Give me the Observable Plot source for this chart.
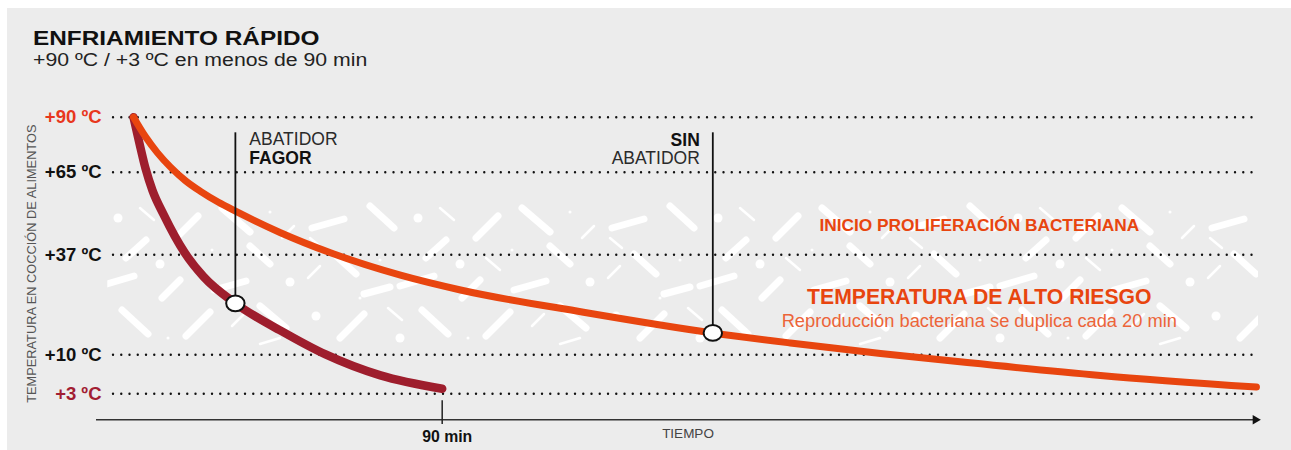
<!DOCTYPE html>
<html>
<head>
<meta charset="utf-8">
<script src="https://cdn.jsdelivr.net/npm/d3@7"></script>
<script src="https://cdn.jsdelivr.net/npm/@observablehq/plot@0.6"></script>
<style>
  html, body { margin: 0; padding: 0; background: #ffffff; }
  #wrap { position: relative; width: 1291px; height: 450px; overflow: hidden; font-family: "Liberation Sans", Arial, sans-serif; }
  #panel { position: absolute; left: 7px; top: 8px; right: 0; bottom: 0; background: #ececec; }
  #title { position: absolute; left: 33px; top: 27.2px; font-size: 21px; line-height: 1; font-weight: bold; color: #111; white-space: nowrap; transform: scaleX(1.16); transform-origin: 0 50%; }
  #subtitle { position: absolute; left: 33px; top: 51.3px; font-size: 18px; line-height: 1; color: #222; white-space: nowrap; transform: scaleX(1.18); transform-origin: 0 50%; }
  #chart { position: absolute; left: 0; top: 90px; }
</style>
</head>
<body>
<div id="wrap">
  <div id="panel"></div>
  <div id="title">ENFRIAMIENTO RÁPIDO</div>
  <div id="subtitle">+90 ºC / +3 ºC en menos de 90 min</div>
  <div id="chart"></div>
</div>
<script>
// ---------- data ----------
const gridTemps = [3, 10, 37, 65, 90];
const gridLabels = ["+3 ºC", "+10 ºC", "+37 ºC", "+65 ºC", "+90 ºC"];

// Abatidor Fagor curve (minutes, ºC)
const fagorTime = [0, 1.75, 3.5, 5.54, 8.75, 14.87, 20.41, 29.7, 43.15, 56.0, 72.0, 90];
const fagorTemp = [90, 78.0, 66.7, 58.8, 50.7, 37.8, 31.1, 23.9, 16.4, 10.1, 6.3, 3.9];

// Sin abatidor curve (minutes, ºC)
const sinTime = [0, 3.5, 7.0, 10.79, 15.16, 19.53, 24.78, 29.74, 42.86, 57.43, 77.84, 95.34, 131.2, 168.9, 191.5, 217.8, 243.1, 281.9, 327.4];
const sinTemp = [90, 81.1, 73.8, 67.3, 62.1, 58.5, 54.8, 51.8, 44.5, 37.7, 31.5, 27.5, 21.5, 15.9, 13.2, 10.35, 8.6, 6.3, 4.2];

// marked points
const markerTime = [29.7, 168.9];
const markerTemp = [23.9, 15.9];

const xTickValue = 90;
const xTickLabel = "90 min";
const xTitle = "TIEMPO";
const yTitle = "TEMPERATURA EN COCCIÓN DE ALIMENTOS";
const zoneLabel = "INICIO PROLIFERACIÓN BACTERIANA";
const riskLabel = "TEMPERATURA DE ALTO RIESGO";
const riskSub = "Reproducción bacteriana se duplica cada 20 min";

// ---------- build ----------
const fagor = fagorTime.map((t, i) => ({t, temp: fagorTemp[i]}));
const sin = sinTime.map((t, i) => ({t, temp: sinTemp[i]}));
const markers = markerTime.map((t, i) => ({t, temp: markerTemp[i]}));
const grid = gridTemps.map((v, i) => ({v, label: gridLabels[i]}));

// the reference uses an uneven (piecewise) temperature axis
const warp = d3.scaleLinear().domain([0, 3, 10, 37, 65, 90]).range([0, 26, 65, 165, 247.6, 302.6]);

const RED = "#9e1e2d";
const ORANGE = "#e8450f";
const LABEL_TOP = 82.9;
const BAND_X = 246.6;

const ellipse = {
  draw(ctx) {
    const rx = 9.2, ry = 7.9, k = 0.5523;
    ctx.moveTo(rx, 0);
    ctx.bezierCurveTo(rx, ry * k, rx * k, ry, 0, ry);
    ctx.bezierCurveTo(-rx * k, ry, -rx, ry * k, -rx, 0);
    ctx.bezierCurveTo(-rx, -ry * k, -rx * k, -ry, 0, -ry);
    ctx.bezierCurveTo(rx * k, -ry, rx, -ry * k, rx, 0);
    ctx.closePath();
  }
};

const font = "Liberation Sans, Arial, sans-serif";

const chart = Plot.plot({
  width: 1291,
  height: 360,
  marginLeft: 96,
  marginRight: 33,
  marginTop: 26.7,
  marginBottom: 30.7,
  x: {domain: [-10.79, 328], range: [96, 1258], axis: null},
  y: {transform: warp, domain: [0, 302.6], range: [329.3, 26.7], axis: null},
  color: {type: "identity"},
  style: {background: "transparent", fontFamily: font, overflow: "visible"},
  marks: [
    // bacteria texture band
    Plot.rect([0], {x1: -7.5, x2: 328, y1: 10.4, y2: 56.5, fill: "url(#bact)"}),
    // dotted gridlines
    Plot.ruleY(gridTemps, {x1: -5.83, x2: 328, stroke: "#111", strokeWidth: 2.4, strokeDasharray: "0 8.25", strokeLinecap: "round"}),
    // x axis line + arrow + tick
    Plot.ruleY([0], {stroke: "#333", strokeWidth: 1.5}),
    Plot.dot([0], {x: 327.1, y: 0, symbol: "triangle", rotate: 90, r: 3.5, fill: "#111", stroke: null}),
    Plot.ruleX([xTickValue], {y1: -0.55, y2: 2.2, stroke: "#222", strokeWidth: 1.5}),
    Plot.text([xTickLabel], {x: xTickValue, y: 0, dx: 5, dy: 22.4, lineAnchor: "bottom", fontWeight: "bold", fontSize: 15.8, fill: "#111"}),
    Plot.text([xTitle], {frameAnchor: "bottom", dx: 10.5, dy: 18.4, lineAnchor: "bottom", fontSize: 13.5, fill: "#444"}),
    // y labels
    Plot.text(grid, {y: "v", text: "label", frameAnchor: "left", dx: 5, textAnchor: "end", lineAnchor: "middle", fontWeight: "bold", fontSize: 18.5,
      fill: d => d.v === 90 ? "#e8371d" : d.v === 3 ? "#a21d33" : "#111"}),
    Plot.text([yTitle], {x: -10.79, y: 34.6, rotate: -90, dx: -61, lineAnchor: "bottom", fontSize: 12.8, fill: "#555"}),
    // curves
    Plot.line(fagor, {x: "t", y: "temp", stroke: RED, strokeWidth: 8.5, curve: "monotone-x", strokeLinecap: "round"}),
    Plot.line(sin, {x: "t", y: "temp", stroke: ORANGE, strokeWidth: 7, curve: "monotone-x", strokeLinecap: "round"}),
    // annotation lines and markers
    Plot.ruleX(markers, {x: "t", y1: "temp", y2: LABEL_TOP, stroke: "#111", strokeWidth: 1.8}),
    Plot.dot(markers, {x: "t", y: "temp", symbol: ellipse, fill: "white", stroke: "#111", strokeWidth: 2}),
    // annotation texts
    Plot.text(["ABATIDOR"], {x: markerTime[0], y: LABEL_TOP, dx: 14, dy: 12.2, textAnchor: "start", lineAnchor: "bottom", fontSize: 17.5, fill: "#2a2a2a"}),
    Plot.text(["FAGOR"], {x: markerTime[0], y: LABEL_TOP, dx: 14, dy: 31, textAnchor: "start", lineAnchor: "bottom", fontSize: 17.5, fontWeight: "bold", fill: "#111"}),
    Plot.text(["SIN"], {x: markerTime[1], y: LABEL_TOP, dx: -13, dy: 12.7, textAnchor: "end", lineAnchor: "bottom", fontSize: 17.5, fontWeight: "bold", fill: "#111"}),
    Plot.text(["ABATIDOR"], {x: markerTime[1], y: LABEL_TOP, dx: -13, dy: 31, textAnchor: "end", lineAnchor: "bottom", fontSize: 17.5, fill: "#2a2a2a"}),
    // zone texts
    Plot.text([zoneLabel], {x: BAND_X, y: 37, dy: -24.3, lineAnchor: "bottom", fontSize: 17.3, fontWeight: "bold", fill: ORANGE}),
    Plot.text([riskLabel], {x: BAND_X, y: 10, dy: -51, lineAnchor: "bottom", fontSize: 21.2, fontWeight: "bold", fill: ORANGE}),
    Plot.text([riskSub], {x: BAND_X, y: 10, dy: -27.6, lineAnchor: "bottom", fontSize: 18.3, fill: "#ec6439"})
  ]
});

// texture pattern definition (decorative "bacteria" strokes)
const ns = "http://www.w3.org/2000/svg";
const defs = document.createElementNS(ns, "defs");
defs.innerHTML = `
<pattern id="bact" patternUnits="userSpaceOnUse" width="300" height="152" y="108">
  <g stroke="#ffffff" stroke-linecap="round" fill="none" stroke-width="7">
    <line x1="12" y1="30" x2="44" y2="21"/>
    <line x1="70" y1="8" x2="94" y2="30"/>
    <line x1="176" y1="40" x2="198" y2="18"/>
    <line x1="222" y1="10" x2="250" y2="34"/>
    <line x1="34" y1="56" x2="56" y2="76"/>
    <line x1="100" y1="88" x2="134" y2="78"/>
    <line x1="214" y1="92" x2="246" y2="83"/>
    <line x1="40" y1="140" x2="64" y2="116"/>
    <line x1="122" y1="112" x2="148" y2="136"/>
    <line x1="186" y1="138" x2="210" y2="114"/>
    <line x1="260" y1="108" x2="286" y2="130"/>
    <line x1="126" y1="60" x2="146" y2="42"/>
    <line x1="64" y1="96" x2="90" y2="89"/>
    <line x1="250" y1="48" x2="270" y2="66"/>
    <line x1="162" y1="100" x2="180" y2="82"/>
  </g>
  <g stroke="#ffffff" stroke-linecap="round" fill="none" stroke-width="2.5">
    <line x1="140" y1="10" x2="154" y2="22"/>
    <line x1="282" y1="40" x2="294" y2="28"/>
    <line x1="8" y1="80" x2="20" y2="68"/>
    <line x1="186" y1="60" x2="200" y2="72"/>
    <line x1="88" y1="110" x2="102" y2="122"/>
    <line x1="232" y1="128" x2="244" y2="116"/>
    <line x1="10" y1="40" x2="22" y2="50"/>
    <line x1="260" y1="146" x2="280" y2="140"/>
  </g>
  <g fill="#ffffff">
    <circle cx="118" cy="20" r="4.5"/>
    <circle cx="160" cy="66" r="4.5"/>
    <circle cx="290" cy="84" r="4.5"/>
    <circle cx="16" cy="118" r="4.5"/>
    <circle cx="100" cy="140" r="4.5"/>
    <circle cx="270" cy="14" r="1.5"/>
    <circle cx="80" cy="62" r="1.5"/>
    <circle cx="168" cy="140" r="1.5"/>
    <circle cx="60" cy="100" r="1.5"/>
    <circle cx="212" cy="52" r="1.5"/>
  </g>
</pattern>`;
chart.insertBefore(defs, chart.firstChild);

document.getElementById("chart").appendChild(chart);
</script>
</body>
</html>
